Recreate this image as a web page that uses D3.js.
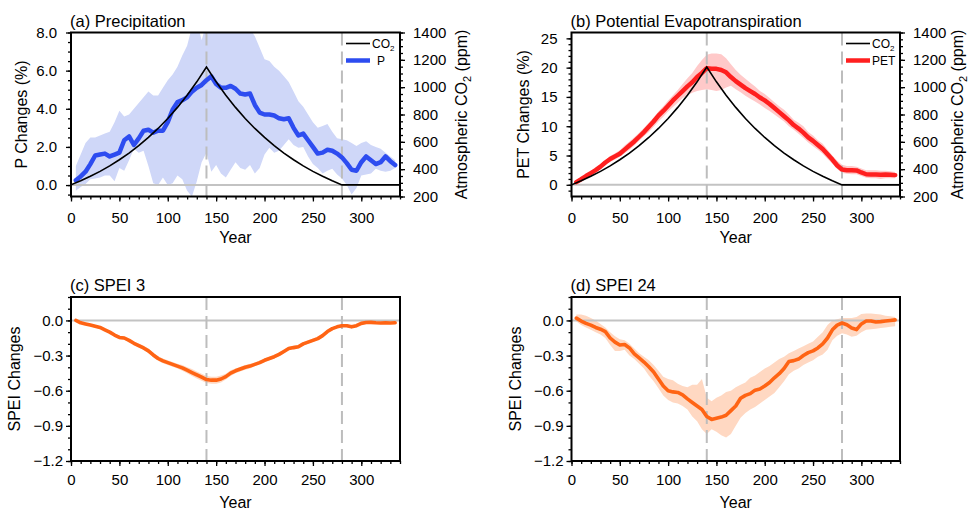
<!DOCTYPE html>
<html>
<head>
<meta charset="utf-8">
<script src="https://cdn.jsdelivr.net/npm/d3@7"></script>
<style>
  body { margin: 0; background: #fff; }
  svg { display: block; font-family: "Liberation Sans", Arial, Helvetica, sans-serif; }
</style>
</head>
<body>
<svg id="chart" width="968" height="510"></svg>
<script>
// years of the smoothed series (5-year samples)
const years = d3.range(5, 340, 5);
const co2Years = d3.range(0, 350, 10);

const xMajor = [0, 50, 100, 150, 200, 250, 300];
const xMinor = d3.range(0, 341, 10);
const co2Ticks = [200, 400, 600, 800, 1000, 1200, 1400];

// atmospheric CO2 (ppm)
const co2 = [285, 315, 348, 384, 424, 469, 518, 572, 632, 698, 771, 852, 941, 1039, 1148,
  1039, 941, 852, 771, 698, 632, 572, 518, 469, 424, 384, 348, 315, 285,
  285, 285, 285, 285, 285, 285];

// (a) precipitation change (%)
const pMean = [0.25, 0.45, 0.7, 1.1, 1.55, 1.6, 1.65, 1.5, 1.6, 1.7,
  2.35, 2.55, 2.1, 2.45, 2.85, 2.9, 2.75, 2.85, 2.85, 3.3,
  3.95, 4.35, 4.45, 4.6, 4.9, 5.1, 5.25, 5.5, 5.7, 5.3,
  5.1, 5.1, 5.2, 5.05, 4.8, 4.75, 4.8, 4.2, 3.8, 3.7,
  3.7, 3.65, 3.5, 3.45, 3.5, 3.0, 2.6, 2.7, 2.35, 2.0,
  1.65, 1.7, 1.85, 1.8, 1.65, 1.45, 1.15, 0.8, 0.75, 1.2,
  1.5, 1.3, 1.1, 1.2, 1.5, 1.25, 1.05];
const pHigh = [1.0, 1.6, 2.2, 2.5, 2.5, 2.6, 2.7, 2.8, 3.3, 3.9,
  3.6, 3.7, 4.0, 4.3, 4.6, 4.9, 4.7, 4.7, 5.1, 5.5,
  5.8, 6.2, 6.8, 7.3, 8.3, 8.6, 7.6, 8.5, 8.8, 9.0,
  9.0, 9.0, 8.8, 8.6, 8.5, 8.4, 8.2, 7.8, 7.2, 6.6,
  6.5, 6.2, 6.0, 5.7, 5.4, 4.9, 4.4, 4.1, 3.7, 3.3,
  3.0, 3.1, 3.2, 2.8, 2.45, 2.4, 2.35, 2.2, 2.05, 2.2,
  2.3, 2.1, 2.0, 1.9, 1.7, 1.5, 1.3];
const pLow = [-0.3, -0.1, 0.05, 0.3, 0.35, 0.4, 0.5, 0.5, 0.2, 0.9,
  0.75, 1.3, 1.9, 1.7, 1.8, 1.0, 0.1, 0.0, 0.4, 0.0,
  0.1, 0.5, 0.3, -0.3, -0.6, 0.2, 1.2, 1.7, 0.7, 1.05,
  0.6, 0.4, 0.8, 1.2, 0.9, 0.8, 1.05, 0.6, 0.9, 1.6,
  1.95, 1.7, 1.8, 2.1, 2.4, 2.1, 1.95, 2.0, 1.5, 1.1,
  0.9, 0.6, 0.75, 0.85, 0.55, 0.35, 0.0, -0.5, -0.15, 0.5,
  0.55, 0.6, 0.85, 0.75, 0.7, 0.75, 0.9];

// (b) PET change (%)
const petMean = [0.45, 0.95, 1.5, 2.0, 2.5, 3.1, 3.8, 4.4, 4.85, 5.3,
  6.0, 6.7, 7.4, 8.2, 9.0, 9.9, 10.8, 11.8, 12.6, 13.5,
  14.4, 15.2, 16.0, 16.8, 17.5, 18.4, 19.1, 19.9, 19.8, 19.8,
  19.6, 19.2, 18.4, 17.7, 17.1, 16.5, 16.0, 15.5, 14.9, 14.4,
  13.8, 13.1, 12.4, 11.7, 11.0, 10.2, 9.6, 8.9, 8.1, 7.5,
  6.8, 6.1, 5.2, 4.3, 3.3, 2.6, 2.5, 2.5, 2.45, 2.1,
  1.8, 1.75, 1.75, 1.7, 1.75, 1.7, 1.65];
const petHigh = [0.7, 1.2, 1.8, 2.3, 2.9, 3.5, 4.2, 4.9, 5.4, 5.9,
  6.7, 7.4, 8.1, 8.9, 9.7, 10.6, 11.5, 12.5, 13.4, 14.4,
  15.3, 16.2, 17.2, 18.2, 19.1, 20.3, 21.3, 22.2, 22.4, 22.4,
  22.3, 21.6, 20.6, 19.6, 18.8, 18.1, 17.4, 16.8, 16.0, 15.5,
  14.8, 14.1, 13.4, 12.8, 12.0, 11.1, 10.6, 10.0, 9.0, 8.4,
  7.6, 7.0, 6.0, 5.0, 4.1, 3.4, 3.2, 3.2, 3.1, 2.8,
  2.5, 2.5, 2.5, 2.4, 2.4, 2.3, 2.2];
const petLow = [0.2, 0.7, 1.2, 1.7, 2.2, 2.7, 3.4, 3.9, 4.3, 4.8,
  5.4, 6.0, 6.7, 7.5, 8.3, 9.0, 9.9, 10.8, 11.6, 12.5,
  13.3, 14.0, 14.8, 15.3, 15.7, 16.0, 16.2, 16.3, 16.2, 16.0,
  16.2, 16.6, 16.9, 16.3, 15.8, 15.2, 14.7, 14.2, 13.7, 13.1,
  12.6, 12.0, 11.4, 10.8, 10.0, 9.4, 8.7, 8.0, 7.2, 6.6,
  6.0, 5.3, 4.4, 3.6, 2.7, 2.0, 1.9, 1.8, 1.8, 1.5,
  1.2, 1.1, 1.1, 1.0, 1.1, 1.1, 1.1];

// (c) SPEI 3 change and half-width of its spread
const spei3Mean = [0.0, -0.02, -0.03, -0.04, -0.05, -0.06, -0.08, -0.1, -0.125, -0.145,
  -0.15, -0.17, -0.195, -0.215, -0.235, -0.26, -0.295, -0.325, -0.345, -0.36,
  -0.375, -0.39, -0.405, -0.425, -0.445, -0.465, -0.485, -0.505, -0.51, -0.51,
  -0.5, -0.48, -0.45, -0.43, -0.415, -0.4, -0.39, -0.375, -0.36, -0.34,
  -0.325, -0.31, -0.29, -0.265, -0.24, -0.232, -0.225, -0.2, -0.185, -0.17,
  -0.155, -0.13, -0.095, -0.07, -0.055, -0.045, -0.045, -0.055, -0.045, -0.025,
  -0.018, -0.017, -0.02, -0.022, -0.02, -0.022, -0.02];
const spei3Half = [0.01, 0.01, 0.01, 0.01, 0.012, 0.012, 0.012, 0.012, 0.015, 0.015,
  0.015, 0.015, 0.015, 0.018, 0.018, 0.02, 0.02, 0.02, 0.02, 0.02,
  0.02, 0.02, 0.025, 0.025, 0.03, 0.03, 0.03, 0.03, 0.03, 0.03,
  0.03, 0.025, 0.025, 0.02, 0.02, 0.02, 0.02, 0.015, 0.015, 0.015,
  0.015, 0.015, 0.015, 0.015, 0.015, 0.015, 0.015, 0.015, 0.015, 0.015,
  0.015, 0.015, 0.015, 0.012, 0.012, 0.012, 0.012, 0.012, 0.01, 0.01,
  0.01, 0.01, 0.01, 0.01, 0.01, 0.01, 0.01];

// (d) SPEI 24 change
const spei24Mean = [0.02, -0.005, -0.025, -0.04, -0.06, -0.075, -0.095, -0.15, -0.185, -0.21,
  -0.205, -0.235, -0.285, -0.32, -0.355, -0.395, -0.44, -0.5, -0.56, -0.6,
  -0.61, -0.615, -0.635, -0.67, -0.7, -0.73, -0.76, -0.82, -0.845, -0.835,
  -0.825, -0.81, -0.77, -0.73, -0.665, -0.64, -0.625, -0.595, -0.585, -0.56,
  -0.53, -0.49, -0.455, -0.41, -0.35, -0.343, -0.33, -0.3, -0.275, -0.26,
  -0.235, -0.2, -0.15, -0.08, -0.04, -0.022, -0.037, -0.065, -0.078, -0.03,
  -0.005, -0.005, -0.014, -0.01, -0.005, 0.0, 0.005];
const spei24High = [0.05, 0.05, 0.04, 0.02, 0.0, -0.03, -0.06, -0.1, -0.135, -0.16,
  -0.17, -0.2, -0.24, -0.28, -0.31, -0.34, -0.38, -0.43, -0.48, -0.5,
  -0.51, -0.54, -0.56, -0.57, -0.55, -0.55, -0.5, -0.66, -0.69, -0.66,
  -0.64, -0.61, -0.6, -0.57, -0.55, -0.53, -0.49, -0.47, -0.44, -0.41,
  -0.39, -0.36, -0.33, -0.31, -0.28, -0.26, -0.24, -0.22, -0.2, -0.18,
  -0.14, -0.1, -0.04, 0.0, 0.01, 0.02, 0.02, 0.02, 0.03, 0.055,
  0.06, 0.06, 0.055, 0.05, 0.04, 0.035, 0.03];
const spei24Low = [-0.01, -0.04, -0.06, -0.08, -0.1, -0.12, -0.15, -0.21, -0.26, -0.26,
  -0.25, -0.3, -0.33, -0.37, -0.41, -0.47, -0.52, -0.58, -0.64, -0.68,
  -0.7, -0.71, -0.73, -0.76, -0.82, -0.86, -0.93, -0.97, -0.93, -0.95,
  -0.98, -1.0, -0.97, -0.9, -0.83, -0.79, -0.76, -0.74, -0.71, -0.68,
  -0.65, -0.62, -0.57, -0.52, -0.46, -0.43, -0.41, -0.38, -0.36, -0.34,
  -0.31, -0.29, -0.25, -0.17, -0.13, -0.11, -0.12, -0.14, -0.13, -0.1,
  -0.08, -0.075, -0.07, -0.065, -0.06, -0.055, -0.05];

const svg = d3.select("#chart");
svg.append("rect").attr("width", 968).attr("height", 510).attr("fill", "#fff");

const tickFont = 15;

function drawPanel(p) {
  const x = d3.scaleLinear().domain([0, 340]).range([p.x0, p.x1]);
  const y = d3.scaleLinear().domain(p.yDomain).range([p.y1, p.y0]);

  svg.append("clipPath").attr("id", "clip-" + p.id)
    .append("rect")
    .attr("x", p.x0).attr("y", p.y0)
    .attr("width", p.x1 - p.x0).attr("height", p.y1 - p.y0);

  const plot = svg.append("g").attr("clip-path", `url(#clip-${p.id})`);

  const area = d3.area()
    .x((d, i) => x(years[i]))
    .y0((d, i) => y(p.lo[i]))
    .y1((d, i) => y(p.hi[i]));

  plot.append("path")
    .datum(p.mean)
    .attr("fill", p.bandColor)
    .attr("d", area);

  plot.append("line")
    .attr("x1", p.x0).attr("x2", p.x1)
    .attr("y1", y(0)).attr("y2", y(0))
    .attr("stroke", "#c3c3c3")
    .attr("stroke-width", 2);

  [140, 280].forEach(yr => {
    plot.append("line")
      .attr("x1", x(yr)).attr("x2", x(yr))
      .attr("y1", p.y0).attr("y2", p.y1)
      .attr("stroke", "#bdbdbd")
      .attr("stroke-width", 2)
      .attr("stroke-dasharray", "13,6");
  });

  const line = d3.line()
    .x((d, i) => x(years[i]))
    .y(d => y(d));

  plot.append("path")
    .datum(p.mean)
    .attr("fill", "none")
    .attr("stroke", p.lineColor)
    .attr("stroke-width", p.lineWidth)
    .attr("stroke-linejoin", "round")
    .attr("stroke-linecap", "round")
    .attr("d", line);

  let yCo2 = null;
  if (p.co2) {
    yCo2 = d3.scaleLinear().domain([200, 1400]).range([p.y1, p.y0]);
    const co2Line = d3.line()
      .x((d, i) => x(co2Years[i]))
      .y(d => yCo2(d));
    plot.append("path")
      .datum(co2)
      .attr("fill", "none")
      .attr("stroke", "#000")
      .attr("stroke-width", 1.6)
      .attr("d", co2Line);
  }

  // axes
  const styleAxis = g => {
    g.select(".domain").remove();
    g.selectAll(".tick line").attr("stroke", "#000").attr("stroke-width", 1.3);
    g.selectAll(".tick text").attr("fill", "#000").style("font-size", tickFont + "px");
  };

  svg.append("g")
    .attr("transform", `translate(0,${p.y1})`)
    .call(d3.axisBottom(x).tickValues(xMinor).tickSize(3).tickFormat(""))
    .call(styleAxis);
  svg.append("g")
    .attr("transform", `translate(0,${p.y1})`)
    .call(d3.axisBottom(x).tickValues(xMajor).tickSize(5).tickPadding(p.xPad).tickFormat(d3.format("d")))
    .call(styleAxis);

  svg.append("g")
    .attr("transform", `translate(${p.x0},0)`)
    .call(d3.axisLeft(y).tickValues(p.yMinor).tickSize(3).tickFormat(""))
    .call(styleAxis);
  svg.append("g")
    .attr("transform", `translate(${p.x0},0)`)
    .call(d3.axisLeft(y).tickValues(p.yMajor).tickSize(5).tickPadding(p.yPad).tickFormat(p.yFormat))
    .call(styleAxis);

  if (p.co2) {
    svg.append("g")
      .attr("transform", `translate(${p.x1},0)`)
      .call(d3.axisRight(yCo2).tickValues(d3.range(200, 1401, 50)).tickSize(3).tickFormat(""))
      .call(styleAxis);
    svg.append("g")
      .attr("transform", `translate(${p.x1},0)`)
      .call(d3.axisRight(yCo2).tickValues(co2Ticks).tickSize(5).tickPadding(8).tickFormat(d3.format("d")))
      .call(styleAxis);

    const rt = svg.append("text")
      .attr("transform", `translate(${p.rTitleX},${(p.y0 + p.y1) / 2}) rotate(-90)`)
      .attr("text-anchor", "middle")
      .style("font-size", "16px");
    rt.append("tspan").text("Atmospheric CO");
    rt.append("tspan").attr("dy", 4).style("font-size", "11px").text("2");
    rt.append("tspan").attr("dy", -4).text(" (ppm)");

    // legend
    const lx = p.x1 - 54;
    const leg = svg.append("g");
    leg.append("line")
      .attr("x1", lx).attr("x2", lx + 24).attr("y1", 43.5).attr("y2", 43.5)
      .attr("stroke", "#000").attr("stroke-width", 1.6);
    const lt = leg.append("text").attr("x", lx + 26).attr("y", 47.5).style("font-size", "12px");
    lt.append("tspan").text("CO");
    lt.append("tspan").attr("dy", 3).style("font-size", "8px").text("2");
    leg.append("line")
      .attr("x1", lx).attr("x2", lx + 24).attr("y1", 60.5).attr("y2", 60.5)
      .attr("stroke", p.lineColor).attr("stroke-width", p.lineWidth);
    leg.append("text").attr("x", lx + p.legendDx).attr("y", 65)
      .style("font-size", "12px").text(p.legendLabel);
  }

  // frame
  svg.append("rect")
    .attr("x", p.x0).attr("y", p.y0)
    .attr("width", p.x1 - p.x0).attr("height", p.y1 - p.y0)
    .attr("fill", "none")
    .attr("stroke", "#000")
    .attr("stroke-width", 2);

  // titles
  svg.append("text")
    .attr("x", p.x0 - 1).attr("y", p.y0 - 6)
    .style("font-size", "16.5px")
    .text(p.title);

  svg.append("text")
    .attr("x", (p.x0 + p.x1) / 2).attr("y", p.y1 + p.yearDy)
    .attr("text-anchor", "middle")
    .style("font-size", "16px")
    .text("Year");

  svg.append("text")
    .attr("transform", `translate(${p.yTitleX},${(p.y0 + p.y1) / 2}) rotate(-90)`)
    .attr("text-anchor", "middle")
    .style("font-size", "16px")
    .text(p.yTitle);
}

drawPanel({
  id: "a", x0: 71, x1: 400, y0: 32.5, y1: 196.5,
  yDomain: [-0.6, 8], yMajor: [0, 2, 4, 6, 8], yMinor: d3.range(-0.5, 8.01, 0.5),
  yFormat: d3.format(".1f"), yPad: 9, xPad: 11, yearDy: 46,
  title: "(a) Precipitation", yTitle: "P Changes (%)", yTitleX: 27,
  mean: pMean, lo: pLow, hi: pHigh,
  bandColor: "#cfd7f8", lineColor: "#2d4cf0", lineWidth: 4.5,
  co2: true, rTitleX: 467, legendLabel: "P", legendDx: 31
});

drawPanel({
  id: "b", x0: 571.5, x1: 900, y0: 32.5, y1: 196.5,
  yDomain: [-2, 26], yMajor: [0, 5, 10, 15, 20, 25], yMinor: d3.range(-1, 26, 1),
  yFormat: d3.format("d"), yPad: 9, xPad: 11, yearDy: 46,
  title: "(b) Potential Evapotranspiration", yTitle: "PET Changes (%)", yTitleX: 529,
  mean: petMean, lo: petLow, hi: petHigh,
  bandColor: "#ffc9c9", lineColor: "#ff1f1f", lineWidth: 4.5,
  co2: true, rTitleX: 963, legendLabel: "PET", legendDx: 26
});

drawPanel({
  id: "c", x0: 71, x1: 400, y0: 297, y1: 461,
  yDomain: [-1.2, 0.2], yMajor: [-1.2, -0.9, -0.6, -0.3, 0], yMinor: d3.range(-1.2, 0.21, 0.1),
  yFormat: d3.format(".1f"), yPad: 3, xPad: 8, yearDy: 47,
  title: "(c) SPEI 3", yTitle: "SPEI Changes", yTitleX: 20,
  mean: spei3Mean,
  lo: spei3Mean.map((v, i) => v - spei3Half[i]),
  hi: spei3Mean.map((v, i) => v + spei3Half[i]),
  bandColor: "#ffd8c2", lineColor: "#ff6414", lineWidth: 3.6,
  co2: false
});

drawPanel({
  id: "d", x0: 571.5, x1: 900, y0: 297, y1: 461,
  yDomain: [-1.2, 0.2], yMajor: [-1.2, -0.9, -0.6, -0.3, 0], yMinor: d3.range(-1.2, 0.21, 0.1),
  yFormat: d3.format(".1f"), yPad: 3, xPad: 8, yearDy: 47,
  title: "(d) SPEI 24", yTitle: "SPEI Changes", yTitleX: 521,
  mean: spei24Mean, lo: spei24Low, hi: spei24High,
  bandColor: "#ffd8c2", lineColor: "#ff6414", lineWidth: 3.6,
  co2: false
});
</script>
</body>
</html>
